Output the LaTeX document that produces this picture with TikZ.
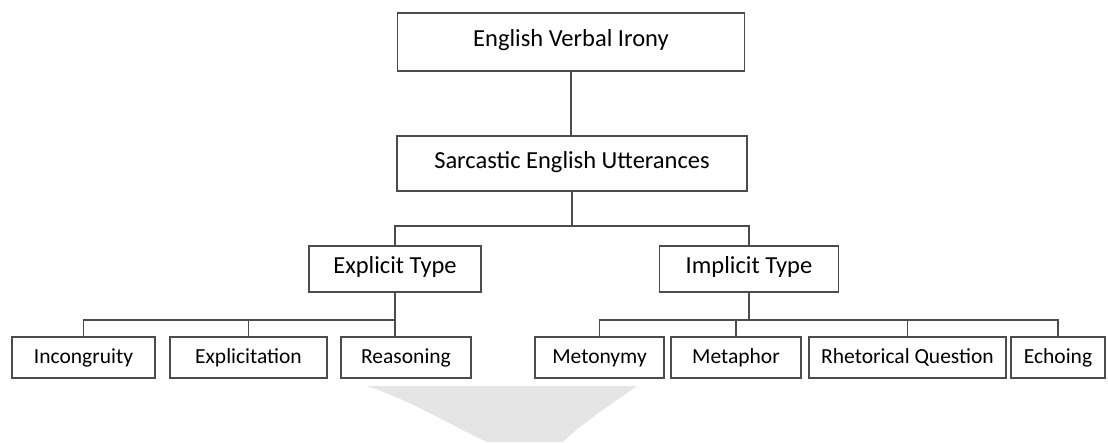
\documentclass[tikz,border=0pt]{standalone}
\usepackage{fontspec}
\setmainfont{Carlito}
\begin{document}
\begin{tikzpicture}[x=1pt, y=-1pt,
    box/.style={draw=black!70, line width=1.9pt, inner sep=0pt,
                text height=16pt, text depth=7pt,
                font=\fontsize{24.5}{29}\selectfont},
    leaf/.style={box, minimum height=41pt, text height=15pt, text depth=4pt,
                 font=\fontsize{21.5}{26}\selectfont},
    link/.style={draw=black!70, line width=1.9pt}]

                \useasboundingbox (0,0) rectangle (1108,442);

                %----- FAINT WEDGE UNDER THE TREE -----
                \fill[black!10] (367,386) -- (637,386)
                    .. controls (610,405) and (580,425) .. (563,442) -- (487,442)
                    .. controls (450,425) and (410,400) .. (367,386) -- cycle;

                %----- TOP LEVELS -----
                \node[box, minimum width=347pt, minimum height=58pt] (irony) at (571,42) {English Verbal Irony};
                \node[box, minimum width=350pt, minimum height=55pt] (sarc) at (572,163.5) {Sarcastic English Utterances};

                %----- TWO TYPES -----
                \node[box, minimum width=172pt, minimum height=46pt] (explicit) at (395,269) {Explicit Type};
                \node[box, minimum width=179pt, minimum height=46pt] (implicit) at (749,269) {Implicit Type};

                %----- LEAVES -----
                % explicit side
                \node[leaf, minimum width=143pt] (incon) at (83.5,357.5) {Incongruity};
                \node[leaf, minimum width=157pt] (explic) at (248.5,357.5) {Explicitation};
                \node[leaf, minimum width=130pt] (reason) at (406,357.5) {Reasoning};
                % implicit side
                \node[leaf, minimum width=129pt] (meto) at (599.5,357.5) {Metonymy};
                \node[leaf, minimum width=130pt] (meta) at (736,357.5) {Metaphor};
                \node[leaf, minimum width=197pt] (rheto) at (907.5,357.5) {Rhetorical Question};
                \node[leaf, minimum width=94pt] (echo) at (1058,357.5) {Echoing};

                %----- CONNECTORS -----
                \draw[link] (irony.south) -- (irony.south |- sarc.north);
                \draw[link] (sarc.south) -- ++(0,34) coordinate (split);
                \draw[link] (explicit.north) |- (split) -| (implicit.north);

                % explicit branch
                \draw[link] (explicit.south) -- ++(0,27) coordinate (expsplit);
                \draw[link] (incon.north) |- (expsplit) -- (expsplit |- reason.north);
                \draw[link] (expsplit) -| (explic.north);

                % implicit branch
                \draw[link] (implicit.south) -- ++(0,27) coordinate (impsplit);
                \draw[link] (meto.north) |- (impsplit) -| (echo.north);
                \draw[link] (impsplit) -| (meta.north);
                \draw[link] (impsplit) -| (rheto.north);

\end{tikzpicture}
\end{document}
